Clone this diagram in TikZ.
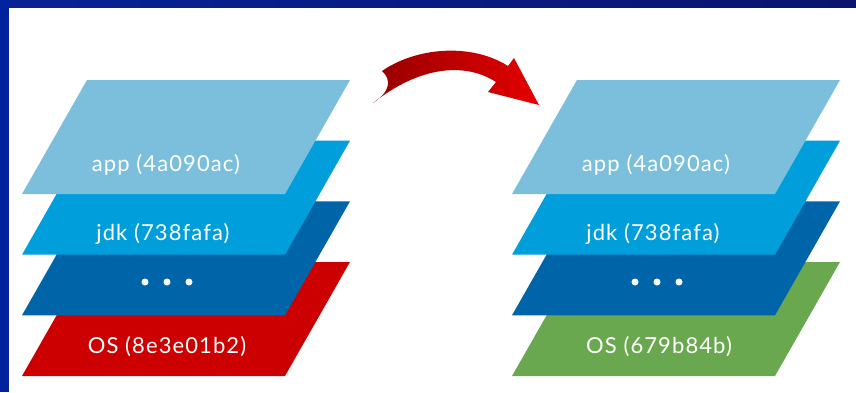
\documentclass[tikz,border=0pt]{standalone}
\usepackage{fontspec}
\setmainfont{Lato}[LetterSpace=5]
\definecolor{appc}{RGB}{123,191,221}
\definecolor{jdkc}{RGB}{0,158,219}
\definecolor{midc}{RGB}{0,100,168}
\definecolor{osred}{RGB}{204,0,0}
\definecolor{osgreen}{RGB}{106,168,79}
\definecolor{frameA}{RGB}{8,34,150}
\definecolor{frameB}{RGB}{10,20,110}
\definecolor{frameL}{RGB}{0,34,156}
\definecolor{arrA}{RGB}{150,0,0}
\definecolor{arrB}{RGB}{228,0,0}
\tikzset{
  lbl/.style={text=white,font=\fontsize{22}{26}\selectfont,inner sep=0pt,anchor=base},
  dotc/.style={fill=white,draw=none},
}
\newcommand\layerpath[2]{(#1+87,#2) -- (#1+350,#2) -- (#1+285,#2+114) -- (#1+22,#2+114) -- cycle}
\begin{document}
\begin{tikzpicture}[x=1pt,y=-1pt]
\useasboundingbox (0,0) rectangle (856,392);
\fill[white] (0,0) rectangle (856,392);
\shade[left color=frameA,right color=frameB] (0,0) rectangle (856,7);
\fill[frameL] (0,0) rectangle (9,392);

% left stack
\fill[osred] \layerpath{0}{262};
\fill[midc] \layerpath{0}{201.3};
\fill[jdkc] \layerpath{0}{140.7};
\fill[appc] \layerpath{0}{80};
\node[lbl] (lapp) at (166,171.5) {app (4a090ac)};
\node[lbl] (ljdk) at (163,240.5) {jdk (738fafa)};
\node[lbl] (los) at (167,353) {OS (8e3e01b2)};
\fill[dotc] (145,282) circle (3.5) (167,282) circle (3.5) (189,282) circle (3.5);

% right stack
\fill[osgreen] \layerpath{490}{262};
\fill[midc] \layerpath{490}{201.3};
\fill[jdkc] \layerpath{490}{140.7};
\fill[appc] \layerpath{490}{80};
\node[lbl] (rapp) at (656,171.5) {app (4a090ac)};
\node[lbl] (rjdk) at (653,240.5) {jdk (738fafa)};
\node[lbl] (ros) at (659,353) {OS (679b84b)};
\fill[dotc] (635,282) circle (3.5) (657,282) circle (3.5) (679,282) circle (3.5);

% arrow
\coordinate (atail) at (373,103);
\coordinate (atip) at (539,105);
\shade[left color=arrA,right color=arrB]
  (atail) .. controls (390,92) and (392,80) .. (382,71)
  .. controls (415,48) and (470,42) .. (508,66)
  -- (514,58) -- (atip) -- (488,92) -- (496,82)
  .. controls (465,62) and (420,66) .. (atail) -- cycle;
\end{tikzpicture}
\end{document}
